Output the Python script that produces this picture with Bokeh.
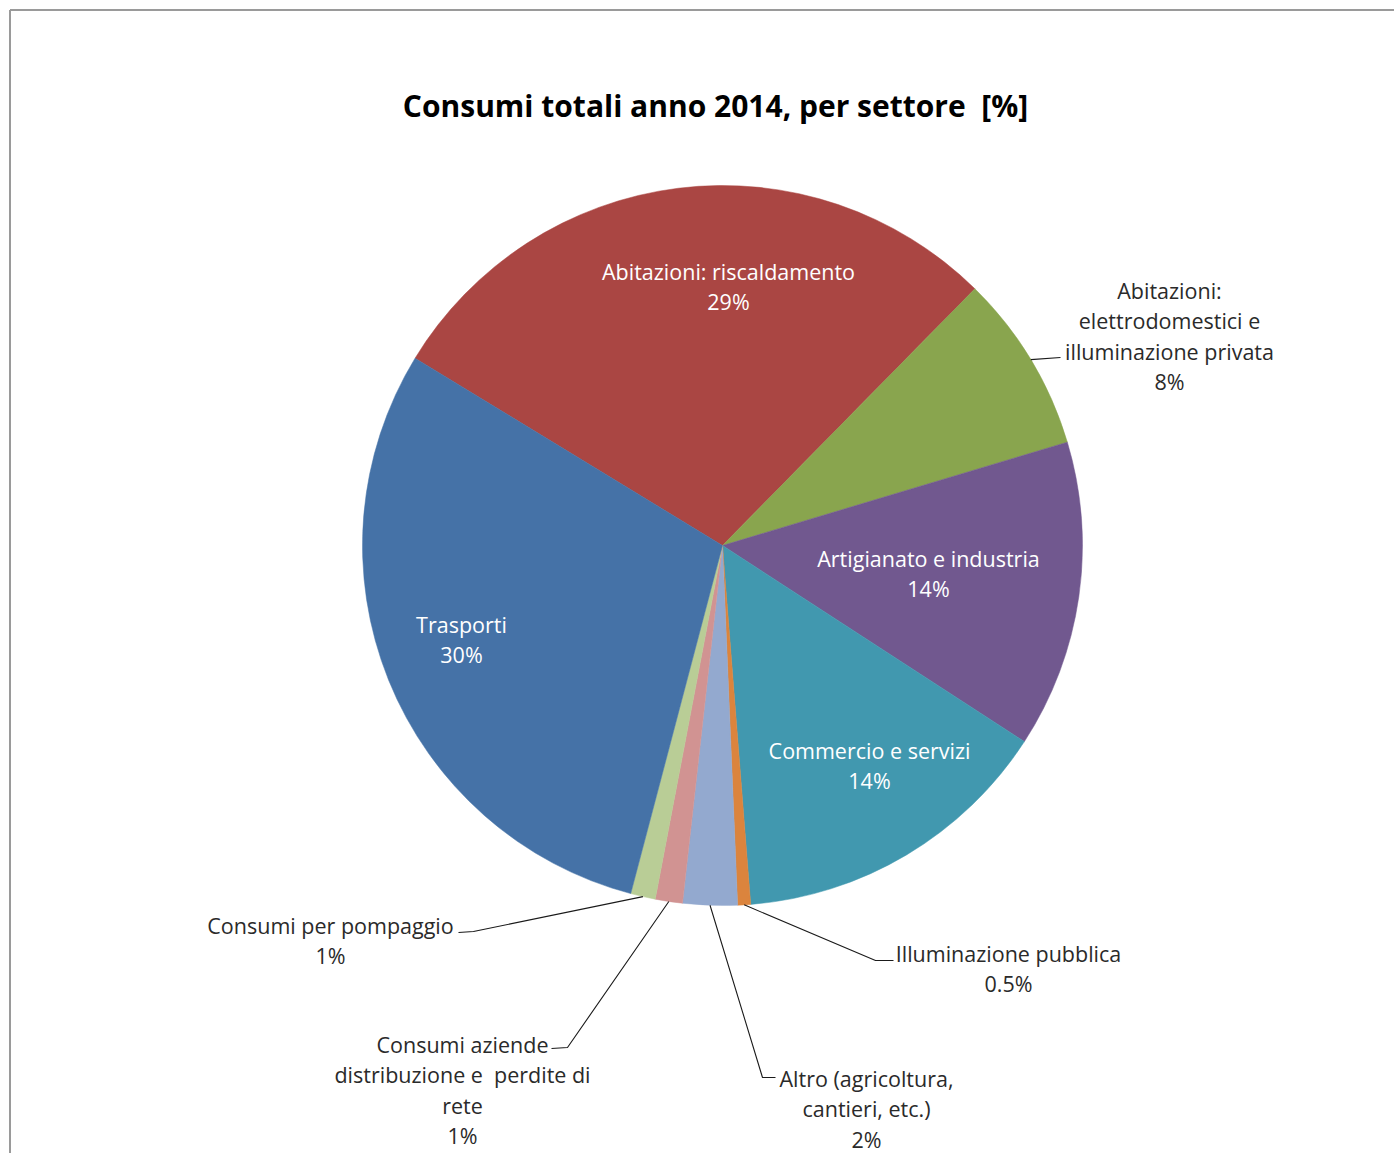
import math
from bokeh.plotting import figure
from bokeh.models import Range1d, ColumnDataSource
from bokeh.embed import file_html
from bokeh.resources import INLINE
from bokeh.core.properties import value

# ---------------- data ----------------
sectors = [
    "Abitazioni: riscaldamento",
    "Abitazioni: elettrodomestici e illuminazione privata",
    "Artigianato e industria",
    "Commercio e servizi",
    "Illuminazione pubblica",
    "Altro (agricoltura, cantieri, etc.)",
    "Consumi aziende distribuzione e perdite di rete",
    "Consumi per pompaggio",
    "Trasporti",
]
shares = [28.65, 8.0, 13.8, 14.58, 0.58, 2.44, 1.22, 1.11, 29.6]
pct_labels = ["29%", "8%", "14%", "14%", "0.5%", "2%", "1%", "1%", "30%"]
label_lines = [
    ["Abitazioni: riscaldamento"],
    ["Abitazioni:", "elettrodomestici e", "illuminazione privata"],
    ["Artigianato e industria"],
    ["Commercio e servizi"],
    ["Illuminazione pubblica"],
    ["Altro (agricoltura,", "cantieri, etc.)"],
    ["Consumi aziende", "distribuzione e\u00a0 perdite di", "rete"],
    ["Consumi per pompaggio"],
    ["Trasporti"],
]
colors = ["#AA4643", "#89A54E", "#71588F", "#4198AF", "#DB843D",
          "#93A9CF", "#D19392", "#B9CD96", "#4572A7"]
title = "Consumi totali anno 2014, per settore \u00a0[%]"

# ---------------- layout (pixel coords of the page) ----------------
W, H = 1394, 1153
CX, CY, R = 722, 545, 360
FIRST_ANGLE = -58.65  # compass degrees, clockwise from 12 o'clock
inside = [True, False, True, True, False, False, False, False, True]
label_pos = [(728, 271), (1169, 290), (928, 558), (869, 750), (1008, 953),
             (866, 1078), (462, 1044), (330, 925), (461, 624)]
leader_tail = {1: [(1060, 357)],
               4: [(875, 960), (893, 960)],
               5: [(762, 1077), (775, 1077)],
               6: [(567, 1047), (551, 1048)],
               7: [(473, 931), (458, 932)]}
LINE_H = 30.3

def Y(py):
    return H - py

p = figure(width=W, height=H, output_backend="svg", toolbar_location=None,
           x_range=Range1d(0, W), y_range=Range1d(0, H),
           min_border=0, x_axis_location=None, y_axis_location=None)
p.grid.visible = False
p.outline_line_color = None
p.background_fill_color = "white"
p.border_fill_color = "white"

# frame border
p.segment(x0=[9.5, 9.5], y0=[Y(9.5), Y(9.5)], x1=[W, 9.5], y1=[Y(9.5), 0],
          line_color="#9a9a9a", line_width=2)

# wedges
total = sum(shares)
starts, ends, mids = [], [], []
acc = FIRST_ANGLE
for v in shares:
    a = acc
    b = acc + v / total * 360.0
    starts.append(math.radians(90 - b))
    ends.append(math.radians(90 - a))
    mids.append((a + b) / 2)
    acc = b
src = ColumnDataSource(dict(x=[CX] * len(shares), y=[Y(CY)] * len(shares),
                            s=starts, e=ends, c=colors))
p.wedge(x="x", y="y", radius=R, start_angle="s", end_angle="e", direction="anticlock",
        fill_color="c", line_color="c", line_width=0.5, source=src)

# leader lines
for i, tail in leader_tail.items():
    m = math.radians(mids[i])
    sx = CX + R * math.sin(m)
    sy = CY - R * math.cos(m)
    xs = [sx] + [t[0] for t in tail]
    ys = [Y(sy)] + [Y(t[1]) for t in tail]
    p.line(xs, ys, line_color="#1a1a1a", line_width=1.1)

# labels
tx, ty, tt, tc = [], [], [], []
for i, lines in enumerate(label_lines):
    lx, ly = label_pos[i]
    allines = lines + [pct_labels[i]]
    for k, t in enumerate(allines):
        tx.append(lx)
        ty.append(Y(ly + k * LINE_H))
        tt.append(t)
        tc.append("white" if inside[i] else "#2a2a2a")
p.text(x=tx, y=ty, text=tt, text_color=tc, text_align="center", text_baseline="middle",
       text_font=value("Open Sans"), text_font_size="21.5px")

# title
p.text(x=[715], y=[Y(105)], text=[title],
       text_align="center", text_baseline="middle", text_color="black",
       text_font=value("Open Sans"), text_font_style="bold", text_font_size="30px")

open("out.html", "w").write(file_html(p, INLINE))
